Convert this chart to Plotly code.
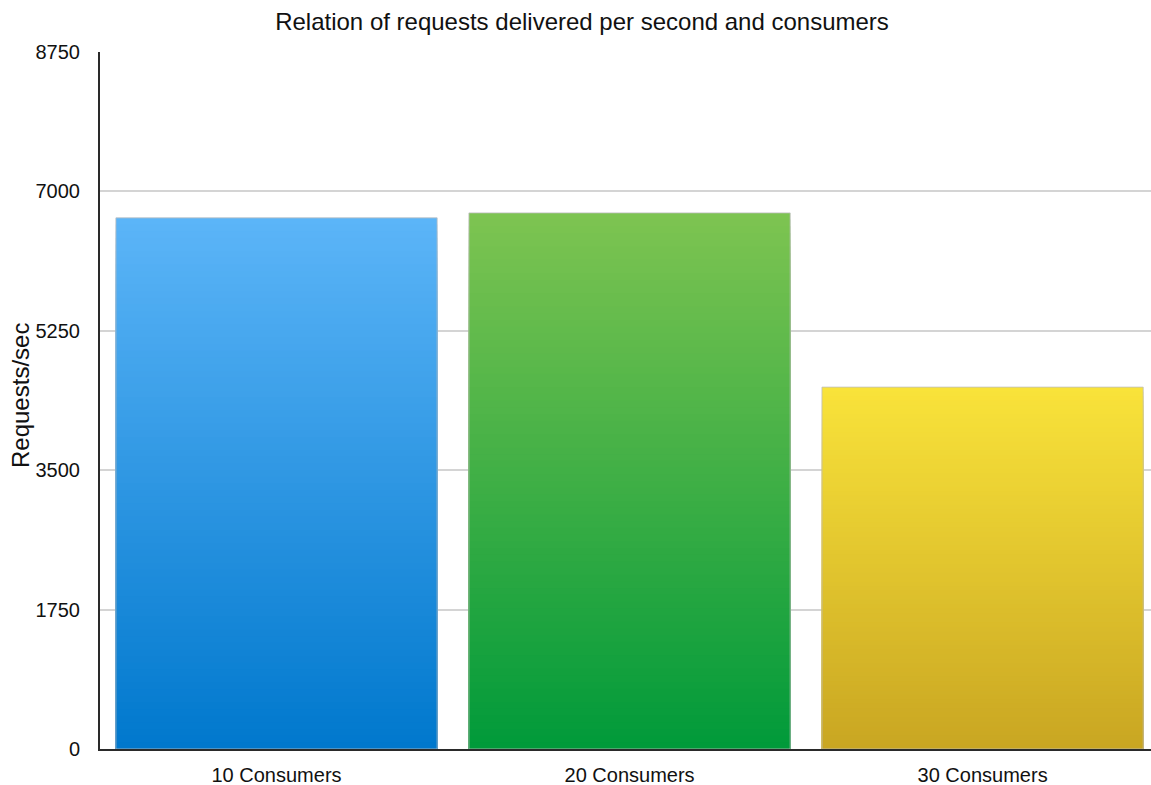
import plotly.graph_objects as go

categories = ["10 Consumers", "20 Consumers", "30 Consumers"]
values = [6668, 6730, 4543]
top_colors = ["#5CB5F8", "#7EC451", "#F9E33A"]
bottom_colors = ["#0078CD", "#009A3A", "#C9A622"]
y_ticks = [0, 1750, 3500, 5250, 7000, 8750]

N = 80
FONT = "Liberation Sans, Arial, Helvetica, sans-serif"


def hex2rgb(h):
    h = h.lstrip("#")
    return tuple(int(h[i:i + 2], 16) for i in (0, 2, 4))


def mix(c0, c1, t):
    a, b = hex2rgb(c0), hex2rgb(c1)
    return "rgb(%d,%d,%d)" % tuple(round(a[k] + (b[k] - a[k]) * t) for k in range(3))


fig = go.Figure()
# gradient: draw tallest (top colour) first, then shorter darker ones on top
for i in range(N - 1, -1, -1):
    t = (i + 0.5) / N
    fig.add_trace(go.Bar(
        x=categories,
        y=[v * (i + 1) / N for v in values],
        base=0,
        marker=dict(color=[mix(bottom_colors[k], top_colors[k], t) for k in range(3)],
                    line=dict(width=0)),
        hoverinfo="skip",
        showlegend=False,
    ))
# outline
fig.add_trace(go.Bar(
    x=categories, y=values, base=0,
    marker=dict(color="rgba(0,0,0,0)", line=dict(color="rgba(190,190,190,0.8)", width=1)),
    showlegend=False, hovertemplate="%{x}: %{y}<extra></extra>",
))

fig.update_layout(
    width=1151, height=785,
    margin=dict(l=100, r=0, t=52, b=36, autoexpand=False),
    paper_bgcolor="white", plot_bgcolor="white",
    barmode="overlay", bargap=0.09,
    font=dict(family=FONT, size=20, color="#111111"),
    title=dict(text="Relation of requests delivered per second and consumers",
               x=582 / 1151, xanchor="center", xref="container",
               y=1 - 22 / 785, yanchor="middle", yref="container",
               font=dict(family=FONT, size=24, color="#111111")),
    showlegend=False,
)
fig.update_xaxes(
    type="category", range=[-0.5, 2.477],
    showline=True, linecolor="#2a2a2a", linewidth=2,
    showgrid=False, ticks="", ticklabelstandoff=7,
    tickfont=dict(family=FONT, size=20, color="#111111"),
)
fig.update_yaxes(
    range=[0, 8750], tickvals=y_ticks, ticktext=[str(v) for v in y_ticks],
    showline=True, linecolor="#2a2a2a", linewidth=2,
    showgrid=True, gridcolor="#d4d4d4", gridwidth=1.5,
    zeroline=False, ticks="", ticklabelstandoff=14,
    tickfont=dict(family=FONT, size=20, color="#111111"),
)
fig.add_annotation(
    text="Requests/sec", textangle=-90,
    xref="paper", yref="paper", x=(20 - 100) / 1051, y=(749 - 396) / 697,
    xanchor="center", yanchor="middle", showarrow=False,
    font=dict(family=FONT, size=24, color="#111111"),
)

fig.write_html("out.html")
